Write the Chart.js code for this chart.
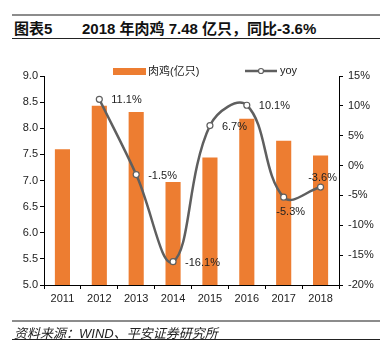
<!DOCTYPE html>
<html><head><meta charset="utf-8">
<script src="https://cdn.jsdelivr.net/npm/chart.js@4/dist/chart.umd.min.js"></script>
<style>
html,body{margin:0;padding:0;background:#fff;}
body{width:389px;height:357px;position:relative;overflow:hidden;font-family:"Liberation Sans",Arial,"Noto Sans CJK SC",sans-serif;}
#wrap{position:absolute;left:0;top:0;width:389px;height:357px;}
.line{position:absolute;left:12px;width:368px;}
#title{position:absolute;left:14px;top:17px;font-size:15px;font-weight:bold;color:#111;white-space:nowrap;}
#title span{position:absolute;left:68px;top:0;}
#foot{position:absolute;left:14px;top:323px;font-size:13px;font-style:italic;color:#222;white-space:nowrap;}
</style></head><body>
<div class="line" style="top:14px;height:2px;background:#8c8c8c"></div>
<div id="title">图表5<span>2018 年肉鸡 7.48 亿只，同比-3.6%</span></div>
<div class="line" style="top:38px;height:1px;background:#222"></div>
<div id="wrap"><canvas id="c" width="389" height="357"></canvas></div>
<div class="line" style="top:320px;height:2px;background:#8c8c8c"></div>
<div id="foot">资料来源：WIND、平安证券研究所</div>
<div class="line" style="top:339px;height:1px;background:#222"></div>
<script>
const categories = ['2011','2012','2013','2014','2015','2016','2017','2018'];
const broilers = [7.60, 8.43, 8.31, 6.97, 7.44, 8.18, 7.76, 7.48];
const yoy = [null, 11.1, -1.5, -16.1, 6.7, 10.1, -5.3, -3.6];
const leftTicks = [5.0, 5.5, 6.0, 6.5, 7.0, 7.5, 8.0, 8.5, 9.0];
const rightTicks = [-20, -15, -10, -5, 0, 5, 10, 15];
const seriesNames = ['肉鸡(亿只)', 'yoy'];
// label placement relative to each yoy point (style only)
const labelPlace = [null, 'right', 'right', 'right', 'right', 'right', 'below', 'above'];

const ORANGE = '#ED7D31', GRAY = '#5f5f5f';
const FONT = '"Liberation Sans", Arial, "Noto Sans CJK SC", sans-serif';

const labelPlugin = {
  id: 'yoyLabels',
  afterDatasetsDraw(chart) {
    const ctx = chart.ctx;
    const meta = chart.getDatasetMeta(0);
    ctx.save();
    ctx.font = '11px ' + FONT;
    ctx.fillStyle = '#222';
    meta.data.forEach((pt, i) => {
      const v = yoy[i];
      if (v === null) return;
      const txt = v.toFixed(1) + '%';
      const p = labelPlace[i];
      ctx.textBaseline = 'middle';
      if (p === 'right') { ctx.textAlign = 'left'; ctx.fillText(txt, pt.x + 12, pt.y + 1); }
      else if (p === 'below') { ctx.textAlign = 'center'; ctx.fillText(txt, pt.x + 7, pt.y + 15); }
      else { ctx.textAlign = 'center'; ctx.fillText(txt, pt.x + 2, pt.y - 9); }
    });
    ctx.restore();
  }
};

const legendPlugin = {
  id: 'customLegend',
  afterDraw(chart) {
    const ctx = chart.ctx;
    ctx.save();
    ctx.font = '11px ' + FONT;
    ctx.textBaseline = 'middle';
    ctx.textAlign = 'left';
    const y = 71;
    ctx.fillStyle = ORANGE;
    ctx.fillRect(113, y - 3, 33, 7);
    ctx.fillStyle = '#222';
    ctx.fillText(seriesNames[0], 148, y + 1);
    ctx.strokeStyle = GRAY; ctx.lineWidth = 2.5;
    ctx.beginPath(); ctx.moveTo(245, y); ctx.lineTo(277, y); ctx.stroke();
    ctx.beginPath(); ctx.arc(261, y, 2.5, 0, Math.PI * 2);
    ctx.fillStyle = '#fff'; ctx.fill(); ctx.lineWidth = 1.2; ctx.stroke();
    ctx.fillStyle = '#222';
    ctx.fillText(seriesNames[1], 280, y);
    ctx.restore();
  }
};

new Chart(document.getElementById('c'), {
  data: {
    labels: categories,
    datasets: [
      {
        type: 'line', label: seriesNames[1], data: yoy, yAxisID: 'y1', order: 0,
        borderColor: GRAY, borderWidth: 2.5, tension: 0.4,
        pointRadius: 3, pointBackgroundColor: '#fff', pointBorderColor: GRAY, pointBorderWidth: 1.2,
        fill: false
      },
      {
        type: 'bar', label: seriesNames[0], data: broilers, yAxisID: 'y', order: 1,
        backgroundColor: ORANGE, categoryPercentage: 1, barPercentage: 0.41
      }
    ]
  },
  options: {
    responsive: false, animation: false,
    layout: { padding: { left: 0, right: 0, top: 76, bottom: 0 } },
    plugins: { legend: { display: false }, tooltip: { enabled: false } },
    scales: {
      x: {
        offset: true,
        grid: { display: true, drawOnChartArea: false, drawTicks: true, tickLength: 4, color: '#000', offset: true },
        border: { display: true, color: '#000', width: 1 },
        ticks: { font: { size: 11, family: FONT }, color: '#222', padding: 3, maxRotation: 0 },
        afterFit(s) { s.height = 72; }
      },
      y: {
        position: 'left', min: 5, max: 9,
        afterBuildTicks(s) { s.ticks = leftTicks.map(v => ({ value: v })); },
        grid: { display: true, drawOnChartArea: false, drawTicks: true, tickLength: 4, color: '#000' },
        border: { display: true, color: '#000', width: 1 },
        ticks: { font: { size: 11, family: FONT }, color: '#222', padding: 2, callback: v => v.toFixed(1) },
        afterFit(s) { s.width = 44; }
      },
      y1: {
        position: 'right', min: -20, max: 15,
        afterBuildTicks(s) { s.ticks = rightTicks.map(v => ({ value: v })); },
        grid: { display: true, drawOnChartArea: false, drawTicks: true, tickLength: 4, color: '#000' },
        border: { display: true, color: '#000', width: 1 },
        ticks: { font: { size: 11, family: FONT }, color: '#222', padding: 5, callback: v => v + '%' },
        afterFit(s) { s.width = 50; }
      }
    }
  },
  plugins: [labelPlugin, legendPlugin]
});
</script>
</body></html>
